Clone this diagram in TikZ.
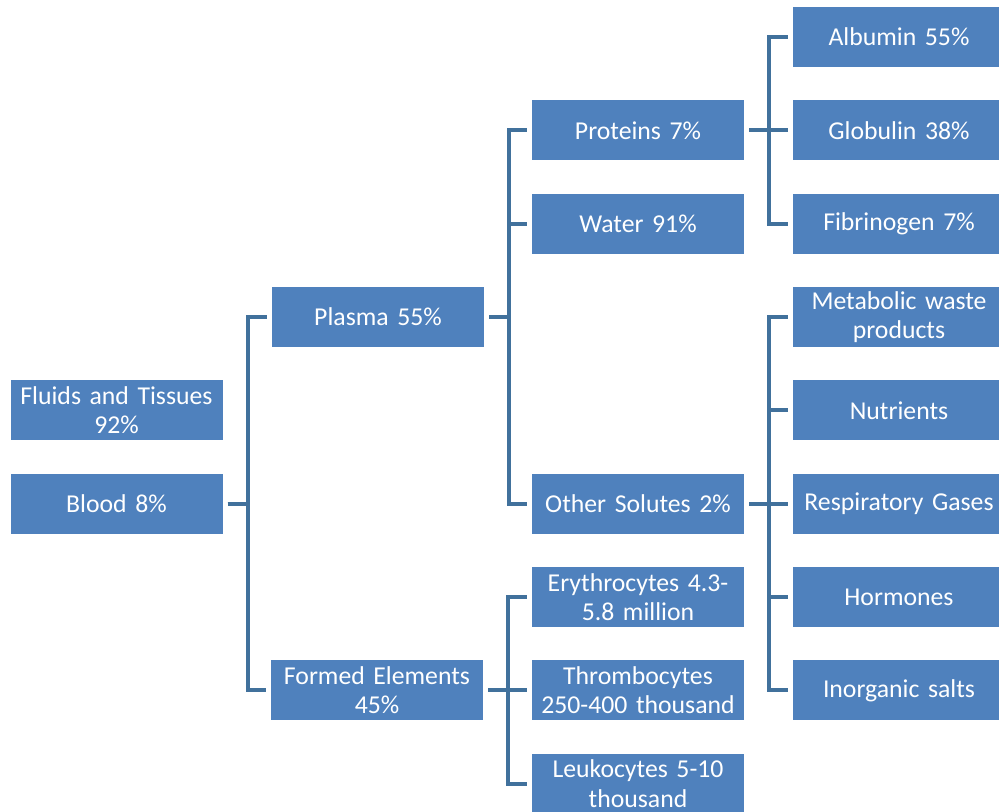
\documentclass[tikz,border=0pt]{standalone}
\usepackage{fontspec}
\setmainfont{Carlito}
\usepackage{tikz}
\usetikzlibrary{positioning}
\definecolor{boxblue}{HTML}{4F81BD}
\definecolor{linkblue}{HTML}{41719C}

\begin{document}
\begin{tikzpicture}[x=0.75pt,y=0.75pt,node distance=25pt and 36.75pt,
	every node/.style={fill=boxblue,text=white,minimum width=159pt,minimum height=45pt,text width=155pt,inner xsep=2pt,inner ysep=2pt,outer sep=0pt,align=center,font=\fontsize{19.3}{22}\selectfont},
	link/.style={color=linkblue,line width=3pt,shorten <=3.75pt,shorten >=3.75pt,to path={-- ++(18.75pt,0) |- (\tikztotarget)}}]
	\useasboundingbox (0,0) rectangle (999,-811);
	\node (alb) at (899,-37) {Albumin 55\%};
	\node (glob) [below=of alb] {Globulin 38\%};
	\node (fib) [below=of glob] {Fibrinogen 7\%};
	\node (waste) [below=of fib] {Metabolic waste\\products};
	\node (nutr) [below=of waste] {Nutrients};
	\node (gas) [below=of nutr] {Respiratory Gases};
	\node (horm) [below=of gas] {Hormones};
	\node (salt) [below=of horm] {Inorganic salts};
	\node (prot) [left=of glob] {Proteins 7\%};
	\node (water) [left=of fib] {Water 91\%};
	\node (sol) [left=of gas] {Other Solutes 2\%};
	\node (ery) [left=of horm] {Erythrocytes 4.3-\\5.8 million};
	\node (thr) [left=of salt] {Thrombocytes\\250-400 thousand};
	\node (leu) [below=of thr] {Leukocytes 5-10\\thousand};
	\node (formed) [left=of thr] {Formed Elements\\45\%};
	\node (plasma) at (378,-317) {Plasma 55\%};
	\node (blood) at (116.5,-503.7) {Blood 8\%};
	\node (fluid) [above=of blood] {Fluids and Tissues\\92\%};
    \path[link]
        (blood.east) edge (plasma.west)
        (blood.east) edge (formed.west)
        (plasma.east) edge (prot.west)
        (plasma.east) edge (water.west)
        (plasma.east) edge (sol.west)
        (formed.east) edge (ery.west)
        (formed.east) edge (thr.west)
        (formed.east) edge (leu.west)
        (prot.east) edge (alb.west)
        (prot.east) edge (glob.west)
        (prot.east) edge (fib.west)
        (sol.east) edge (waste.west)
        (sol.east) edge (nutr.west)
        (sol.east) edge (gas.west)
        (sol.east) edge (horm.west)
        (sol.east) edge (salt.west);
\end{tikzpicture}
\end{document}
